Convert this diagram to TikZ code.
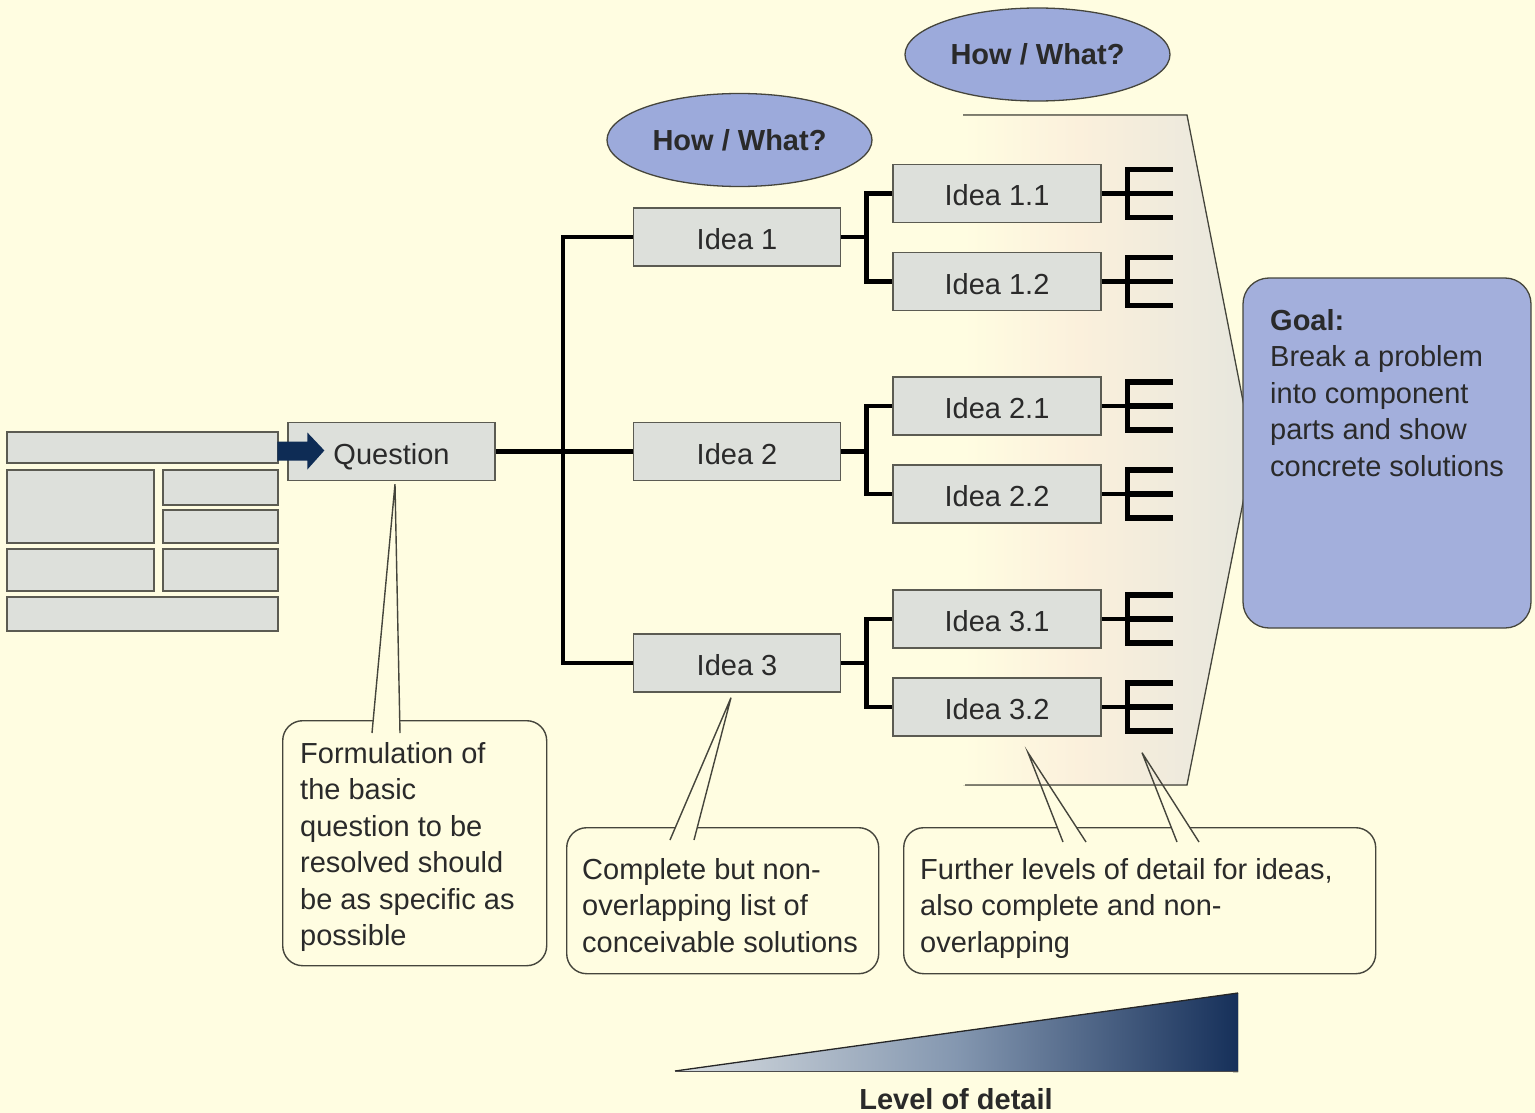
\documentclass[tikz,border=0pt]{standalone}
\usepackage{fontspec}
\setmainfont{Liberation Sans}
\usetikzlibrary{shapes.geometric,calc}
\definecolor{bgc}{HTML}{FFFDE1}
\definecolor{boxf}{HTML}{DDE0DB}
\definecolor{boxd}{HTML}{5B5B52}
\definecolor{ellf}{HTML}{9CAADB}
\definecolor{goalf}{HTML}{A3AFDC}
\definecolor{navy}{HTML}{0E2C55}
\definecolor{edgec}{HTML}{45453C}
\definecolor{txtc}{HTML}{2A2A2A}
\definecolor{peach}{HTML}{FBF0DC}
\definecolor{fgray}{HTML}{E6E6DD}
\definecolor{lvlA}{HTML}{D8DDE0}
\definecolor{lvlB}{HTML}{8497B0}
\definecolor{lvlC}{HTML}{16305A}
\pgfdeclarehorizontalshading{fadesh}{100bp}{color(0bp)=(bgc); color(25bp)=(bgc); color(45bp)=(peach); color(75bp)=(fgray); color(100bp)=(fgray)}
\pgfdeclarehorizontalshading{lvlsh}{100bp}{color(0bp)=(lvlA); color(25bp)=(lvlA); color(50bp)=(lvlB); color(75bp)=(lvlC); color(100bp)=(lvlC)}
\newcommand\myfs{\fontsize{29}{36.4}\selectfont}
\tikzset{
  idea/.style={draw=boxd, fill=boxf, line width=1.3pt, minimum width=207, minimum height=58, inner sep=0, font=\myfs, text=txtc, text height=25, text depth=0},
  cell/.style={draw=boxd, fill=boxf, line width=1.3pt},
  conn/.style={line width=4.5pt, black, line join=miter},
  prong/.style={line width=5.5pt, black, line join=miter},
  ell/.style={ellipse, draw=edgec, fill=ellf, line width=1.3pt, minimum width=265, minimum height=93, inner sep=0, font=\myfs\bfseries, text=txtc},
  goalbox/.style={draw=edgec, fill=goalf, line width=1.3pt, rounded corners=26, minimum width=288, minimum height=350, inner sep=0},
  cbox/.style={draw=edgec, fill=bgc, line width=1.4pt, rounded corners=20, inner sep=0},
  cline/.style={draw=edgec, line width=1.4pt},
  ctext/.style={font=\myfs, text=txtc, align=left, inner sep=0},
}
\newcommand\fork[1]{%
  \draw[conn] (#1.east) -- ++(26,0);
  \draw[prong] ($(#1.east)+(71,-24)$) -- ++(-45,0) -- ++(0,48) -- ++(45,0);
  \draw[prong] ($(#1.east)+(26,0)$) -- ++(45,0);}
\newcommand\ptr[3]{%
  \fill[bgc] ($(#1)!0.75!(#2)$) -- (#2) -- (#3) -- ($(#1)!0.75!(#3)$) -- cycle;
  \draw[cline] (#2) -- (#1) -- (#3);}
\begin{document}
\begin{tikzpicture}[x=1pt,y=-1pt]
\useasboundingbox (0,0) rectangle (1535,1113);
\fill[bgc] (0,0) rectangle (1535,1113);
% fading arrow-shaped background
\fill[shading=fadesh] (963,115) -- (1187,115) -- (1253,452) -- (1187,785) -- (963,785) -- cycle;
\draw[edgec, line width=1.3pt] (963,115) -- (1187,115) -- (1253,452) -- (1187,785) -- (965,785);
% left table
\foreach \a/\b/\c/\d in {7/432/278/463, 7/470/154/543, 163/470/278/505, 163/510/278/543, 7/549/154/591, 163/549/278/591, 7/597/278/631}
  \draw[cell] (\a,\b) rectangle (\c,\d);
% nodes
\node[idea] (q) at (391.5,451.5) {Question};
\fill[navy] ($(q.west)+(-10,-10)$) -- ++(30,0) -- ++(0,-9) -- ($(q.west)+(37,-1)$) -- ++(-17,19) -- ++(0,-9) -- ++(-30,0) -- cycle;
\node[idea] (i1) at (737,237) {Idea 1};
\node[idea] (i2) at (737,451.5) {Idea 2};
\node[idea] (i3) at (737,663) {Idea 3};
\node[idea, minimum width=208] (i11) at (997,193.5) {Idea 1.1};
\node[idea, minimum width=208] (i12) at (997,281.5) {Idea 1.2};
\node[idea, minimum width=208] (i21) at (997,406) {Idea 2.1};
\node[idea, minimum width=208] (i22) at (997,494) {Idea 2.2};
\node[idea, minimum width=208] (i31) at (997,619) {Idea 3.1};
\node[idea, minimum width=208] (i32) at (997,707) {Idea 3.2};
\node[ell] (h1) at (739.5,140) {How / What?};
\node[ell] (h2) at (1037.5,54.5) {How / What?};
% connectors
\draw[conn] (q.east) -- (i2.west);
\draw[conn] (i1.west) -- ++(-70,0) |- (i3.west);
\foreach \p/\a/\b in {i1/i11/i12, i2/i21/i22, i3/i31/i32}{
  \draw[conn] (\p.east) -- ++(26,0);
  \draw[conn] (\a.west) -- ++(-26,0) |- (\b.west);
}
\foreach \n in {i11,i12,i21,i22,i31,i32}{\fork{\n}}
% goal
\node[goalbox] (g) at (1387,453) {};
\node[ctext, anchor=base west] (gt) at (1270,476) {\textbf{Goal:}\\Break a problem\\into component\\parts and show\\concrete solutions};
% callouts
\node[cbox, minimum width=264, minimum height=245, anchor=north west] (c1) at (282,720) {};
\node[cbox, minimum width=312, minimum height=146, anchor=north west] (c2) at (566,827) {};
\node[cbox, minimum width=472, minimum height=146, anchor=north west] (c3) at (903,827) {};
\coordinate (a1) at ($(q.south)+(3.5,3)$);
\coordinate (a2) at ($(i3.south)+(-6,5)$);
\coordinate (a3) at ($(i32.south)+(31,16)$);
\coordinate (a4) at ($(i32.south)+(145,16)$);
\ptr{a1}{372,733}{400,733}
\ptr{a2}{670,840}{694,840}
\ptr{a3}{1063,842}{1086,842}
\ptr{a4}{1177,842}{1199,842}
\node[ctext, anchor=base west] (t1) at (300,945.4) {Formulation of\\the basic\\question to be\\resolved should\\be as specific as\\possible};
\node[ctext, anchor=base west] (t2) at (582,952.2) {Complete but non-\\overlapping list of\\conceivable solutions};
\node[ctext, anchor=base west] (t3) at (920,952.2) {Further levels of detail for ideas,\\also complete and non-\\overlapping};
% level of detail
\fill[shading=lvlsh] (675,1071) -- (1238,993) -- (1238,1072) -- cycle;
\draw[black!85, line width=1.3pt] (675,1071) -- (1238,993);
\draw[black!70, line width=1pt] (675,1071.5) -- (1238,1071.5);
\node[font=\myfs\bfseries, text=txtc, inner sep=0, anchor=base] (lod) at (956,1109.4) {Level of detail};
\end{tikzpicture}
\end{document}
